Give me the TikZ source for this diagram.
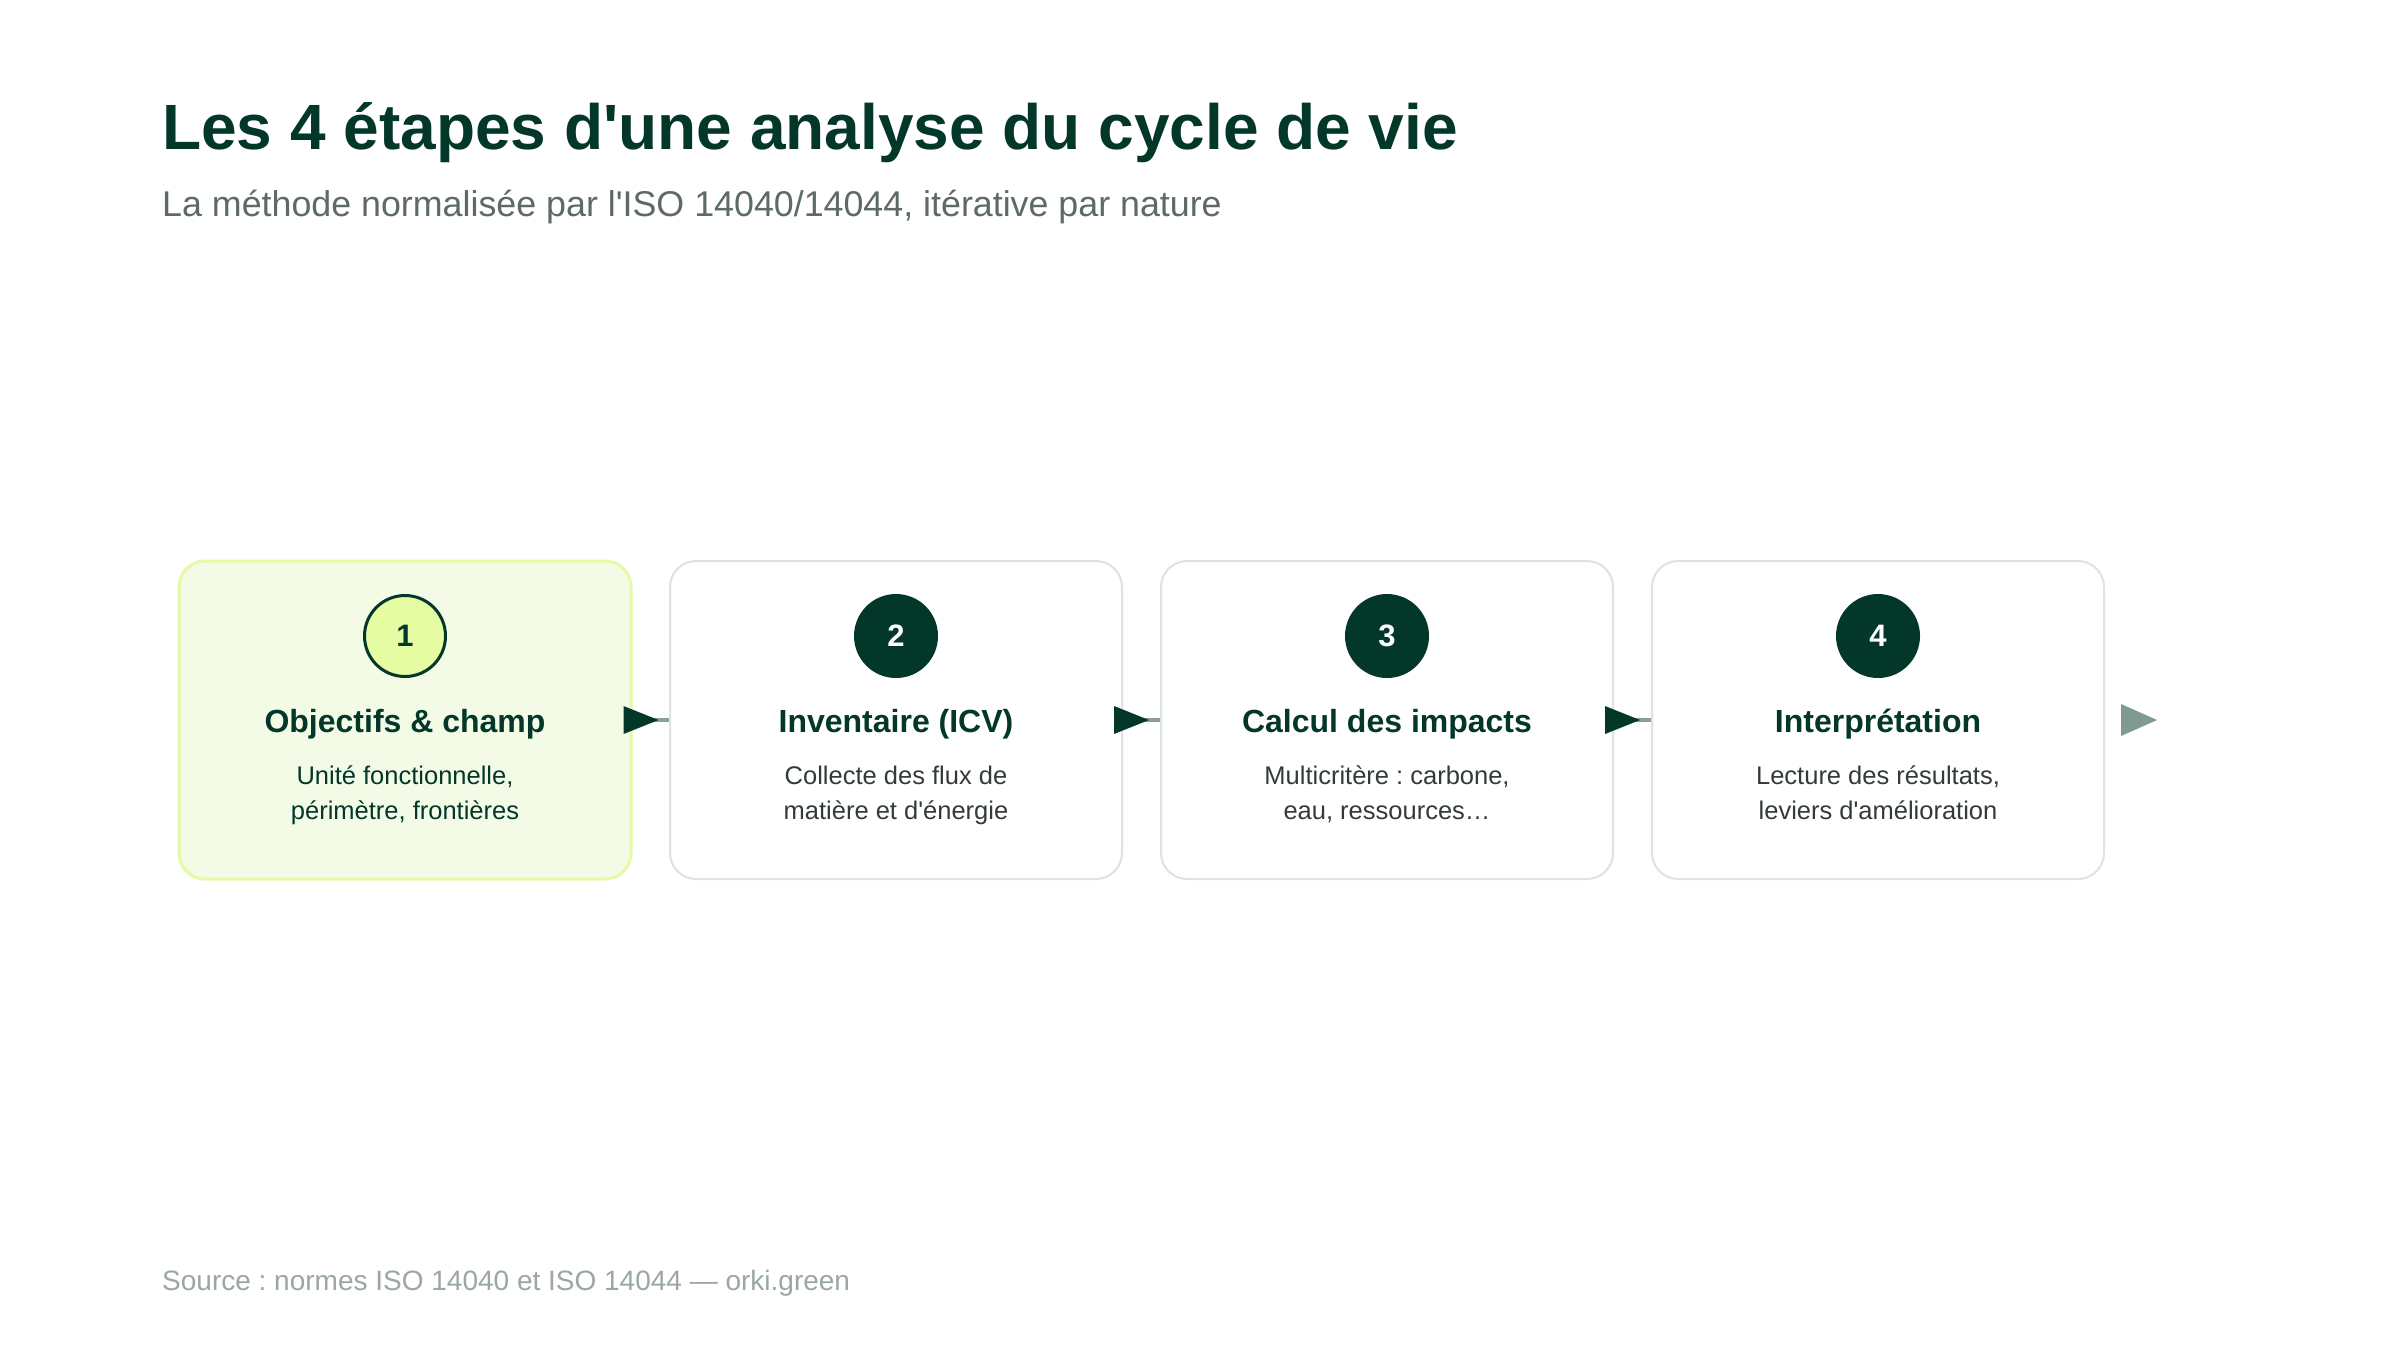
\documentclass[tikz,border=0pt]{standalone}
\usepackage{fontspec}
\setmainfont{Liberation Sans}
\usetikzlibrary{backgrounds}
\frenchspacing

\definecolor{deep}{HTML}{03372A}
\definecolor{limebg}{HTML}{F3FBE6}
\definecolor{limeline}{HTML}{E6FAA6}
\definecolor{limedot}{HTML}{E6FCA2}
\definecolor{boxline}{HTML}{DCE4E2}
\definecolor{ink}{HTML}{333B38}
\definecolor{subgray}{HTML}{5D6A66}
\definecolor{footgray}{HTML}{9AA7A3}
\definecolor{linkgray}{HTML}{8C9E99}
\definecolor{fadetip}{HTML}{7F9A92}

\newcommand{\px}[2]{\fontsize{#1}{#2}\selectfont}
\newcommand{\q}{\textquotesingle}

\tikzset{
  stage/.style={rectangle, draw=boxline, line width=2pt, fill=white, rounded corners=26pt,
    minimum width=452pt, minimum height=318pt},
  first/.style={draw=limeline, line width=3pt, fill=limebg},
  num/.style={circle, fill=deep, text=white, minimum size=84pt, inner sep=0pt, font=\bfseries\px{31}{31}},
  numfirst/.style={fill=limedot, draw=deep, line width=3pt, text=deep, minimum size=81pt},
  head/.style={anchor=base, inner sep=0pt, text=deep, font=\bfseries\px{32}{32}},
  desc/.style={anchor=base, inner sep=0pt, align=center, text=ink, font=\px{25.5}{35}},
  link/.style={draw=linkgray, line width=4pt},
  tip/.style={fill=deep}
}

\begin{document}
\begin{tikzpicture}[x=1pt, y=-1pt, node distance=491pt]
  \useasboundingbox[fill=white] (0,0) rectangle (2400,1350);

  % titles
  \node[anchor=base west, inner sep=0pt, text=deep, font=\bfseries\px{64}{64}] (title) at (162,149)
    {Les 4 étapes d\q une analyse du cycle de vie};
  \node[anchor=base west, inner sep=0pt, text=subgray, font=\px{35.8}{36}] (subtitle) at (162,216)
    {La méthode normalisée par l\q ISO 14040/14044, itérative par nature};

  % the four stages
  \node[stage, first] (obj) at (405,720) {};
  \node[stage]        (inv) [right of=obj] {};
  \node[stage]        (imp) [right of=inv] {};
  \node[stage]        (int) [right of=imp] {};

  \node[num, numfirst] (n1) at ([yshift=84pt]obj.center) {1};
  \node[num]           (n2) at ([yshift=84pt]inv.center) {2};
  \node[num]           (n3) at ([yshift=84pt]imp.center) {3};
  \node[num]           (n4) at ([yshift=84pt]int.center) {4};

  \node[head] (h1) at ([yshift=-12pt]obj.center) {Objectifs \& champ};
  \node[head] (h2) at ([yshift=-12pt]inv.center) {Inventaire (ICV)};
  \node[head] (h3) at ([yshift=-12pt]imp.center) {Calcul des impacts};
  \node[head] (h4) at ([yshift=-12pt]int.center) {Interprétation};

  \node[desc, text=deep] (d1) at ([yshift=-99pt]obj.center) {Unité fonctionnelle,\\périmètre, frontières};
  \node[desc] (d2) at ([yshift=-99pt]inv.center) {Collecte des flux de\\matière et d\q énergie};
  \node[desc] (d3) at ([yshift=-99pt]imp.center) {Multicritère : carbone,\\eau, ressources…};
  \node[desc] (d4) at ([yshift=-99pt]int.center) {Lecture des résultats,\\leviers d\q amélioration};

  % soft shadows
  \begin{scope}[on background layer]
    \foreach \b in {obj,inv,imp,int}
      \foreach \s [evaluate=\s as \r using 26+\s] in {2,5,...,29}
        \fill[black, opacity=0.009, rounded corners=\r pt]
          ([xshift=-\s pt, yshift=-8pt-\s pt]\b.south west) rectangle ([xshift=\s pt, yshift=-8pt+\s pt]\b.north east);
  \end{scope}

  % connectors
  \path (obj) edge[link] (inv)
        (inv) edge[link] (imp)
        (imp) edge[link] (int);
  \foreach \b in {obj,inv,imp}
    \fill[tip] ([xshift=-9pt]\b.east) -- ++(0,-14) -- ++(35,14) -- ++(-35,14) -- cycle;
  \coordinate (out) at ([xshift=52pt]int.east);
  \fill[fadetip] ([xshift=-36pt]out) -- ++(0,-16) -- (out) -- ++(-36,16) -- cycle;

  % source
  \node[anchor=base west, inner sep=0pt, text=footgray, font=\px{28}{28}] (source) at (162,1290)
    {Source : normes ISO 14040 et ISO 14044 — orki.green};
\end{tikzpicture}
\end{document}
